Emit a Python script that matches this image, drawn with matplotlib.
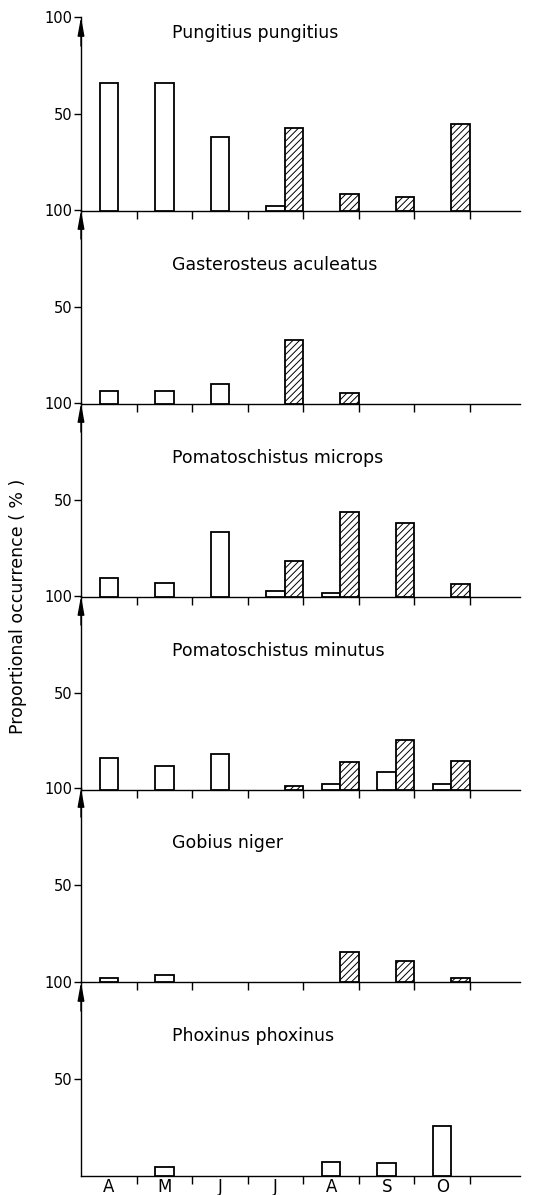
import matplotlib
matplotlib.use("Agg")
import matplotlib.pyplot as plt
import numpy as np

plt.rcParams['font.family'] = ['DejaVu Sans']
plt.rcParams['hatch.linewidth'] = 0.7

months = ['A', 'M', 'J', 'J', 'A', 'S', 'O']
species = ['Pungitius pungitius', 'Gasterosteus aculeatus', 'Pomatoschistus microps',
           'Pomatoschistus minutus', 'Gobius niger', 'Phoxinus phoxinus']

pungitius_open = [66, 66, 38, 2.5, 0, 0, 0]
pungitius_hatch = [0, 0, 0, 43, 9, 7, 45]
gasterosteus_open = [6.5, 6.5, 10.5, 0, 0, 0, 0]
gasterosteus_hatch = [0, 0, 0, 33, 5.5, 0, 0]
microps_open = [10, 7, 33.5, 3, 2, 0, 0]
microps_hatch = [0, 0, 0, 18.5, 44, 38, 6.7]
minutus_open = [16.5, 12.4, 18.5, 0, 3, 9.3, 3]
minutus_hatch = [0, 0, 0, 2, 14.4, 25.8, 15]
niger_open = [2, 3.6, 0, 0, 0, 0, 0]
niger_hatch = [0, 0, 0, 0, 15.5, 10.8, 2]
phoxinus_open = [0, 4.6, 0, 0, 7, 6.8, 26]
phoxinus_hatch = [0, 0, 0, 0, 0, 0, 0]

open_series = [pungitius_open, gasterosteus_open, microps_open,
               minutus_open, niger_open, phoxinus_open]
hatch_series = [pungitius_hatch, gasterosteus_hatch, microps_hatch,
                minutus_hatch, niger_hatch, phoxinus_hatch]


def nz(vals):
    a = np.asarray(vals, dtype=float)
    a[a == 0] = np.nan
    return a


W, H = 541, 1195
fig = plt.figure(figsize=(W / 100, H / 100), dpi=100)

left_px, right_px = 81, 520
baselines_px = [211, 404, 597, 790, 982, 1176]
panel_h_px = 194
title_y = [92, 71.5, 71.5, 71.5, 71.5, 72]

x = np.arange(len(months))
for i, name in enumerate(species):
    b = baselines_px[i]
    ax = fig.add_axes([left_px / W, (H - b) / H, (right_px - left_px) / W, panel_h_px / H])
    ax.set_facecolor('none')
    ax.set_xlim(0, 7.9)
    ax.set_ylim(0, 100)
    ax.bar(x + 0.5, nz(open_series[i]), width=1 / 3, facecolor='white',
           edgecolor='black', linewidth=1.3, zorder=3)
    ax.bar(x + 5 / 6, nz(hatch_series[i]), width=1 / 3, facecolor='white',
           edgecolor='black', linewidth=1.3, hatch='/////', zorder=3)
    for s in ['top', 'right']:
        ax.spines[s].set_visible(False)
    ax.spines['left'].set_linewidth(1.0)
    ax.spines['bottom'].set_linewidth(1.0)
    ax.set_xticks(np.arange(1, 8))
    ax.set_xticklabels([])
    ax.tick_params(axis='x', direction='out', length=6, width=1)
    ax.set_yticks([50, 100])
    ax.set_yticklabels(['50', '100'], fontsize=10.5)
    ax.tick_params(axis='y', direction='out', length=5, width=1, pad=1)
    ax.annotate('', xy=(0, 100), xytext=(0, 85),
                arrowprops=dict(arrowstyle='-|>,head_length=1.1,head_width=0.2',
                                color='black', lw=1.0, shrinkA=0, shrinkB=0),
                annotation_clip=False)
    ax.text(1.63, title_y[i], name, fontsize=12.5, ha='left', va='center')
    if i == len(species) - 1:
        for k, m in enumerate(months):
            ax.text(k + 0.5, -8.4, m, fontsize=12, ha='center', va='baseline')

fig.text(18 / W, 1 - 606 / H, 'Proportional occurrence ( % )', rotation=90,
         fontsize=12.5, ha='center', va='center')

fig.savefig('out.png', dpi=100)
